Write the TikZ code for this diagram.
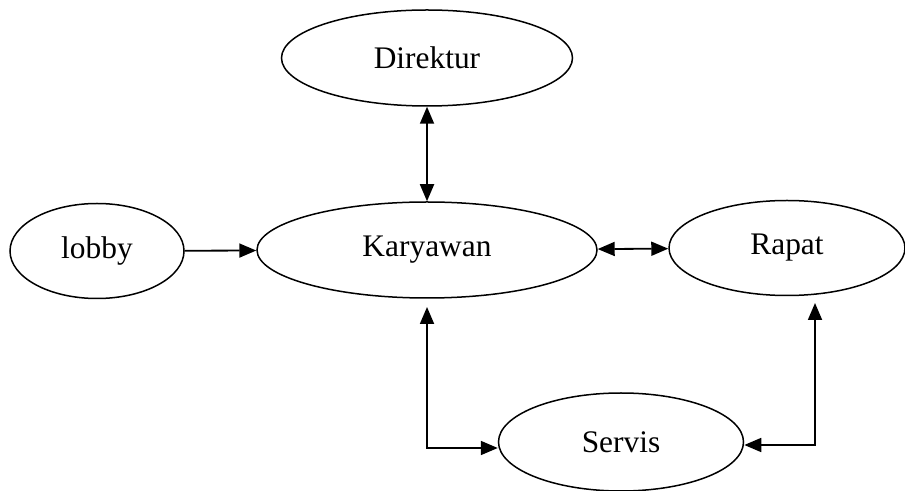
\documentclass[tikz,border=0pt]{standalone}
\usepackage{fontspec}
\setmainfont{Liberation Serif}
\usetikzlibrary{shapes,arrows.meta}

\begin{document}
\begin{tikzpicture}[x=0.5pt,y=-0.5pt]
    \tikzstyle{state}=[ellipse,draw,line width=0.75pt,inner sep=0pt,font=\fontsize{15.7}{18}\selectfont]
    \tikzstyle{link}=[line width=0.9pt,{Triangle[length=8.5pt,width=7pt]}-{Triangle[length=8.5pt,width=7pt]}]
    \tikzstyle{oneway}=[line width=0.9pt,-{Triangle[length=8.5pt,width=7pt]}]
    \useasboundingbox (0,0) rectangle (905,491);
    \node[state,minimum width=145.5pt,minimum height=48pt] (direktur) at (427,58) {Direktur};
    \node[state,minimum width=87pt,minimum height=47.5pt] (lobby) at (97,251) {lobby};
    \node[state,minimum width=170pt,minimum height=48pt] (karyawan) at (427,250) {Karyawan};
    \node[state,minimum width=118pt,minimum height=47.5pt] (rapat) at (787,248) {Rapat};
    \node[state,minimum width=122.5pt,minimum height=49pt] (servis) at (621,442) {Servis};
    \coordinate (kbawah) at (427,307);
    \coordinate (rbawah) at (815,303);
    \draw[link] (direktur) -- (karyawan);
    \draw[oneway] (lobby) -- (karyawan);
    \draw[link] (karyawan) -- (rapat);
    \draw[link] (kbawah) |- ([yshift=-3pt]servis.west);
    \draw[link] (rbawah) |- ([yshift=-1.5pt]servis.east);
\end{tikzpicture}
\end{document}
